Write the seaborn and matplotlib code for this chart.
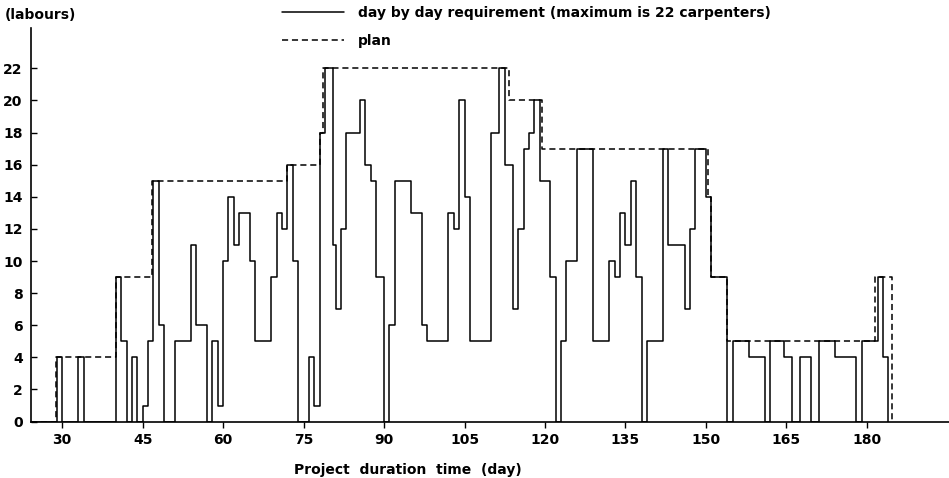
import matplotlib
matplotlib.use('Agg')
import matplotlib.pyplot as plt
import seaborn as sns
import pandas as pd

# day by day requirement: step starts (day) and number of labours from that day on
req_days = [24.2, 29, 30, 33, 34, 40, 41, 42, 43, 44, 45, 46, 47, 48, 49, 51, 54, 55, 57, 58, 59,
            60, 61, 62, 63, 65, 66, 69, 70, 71, 72, 73, 74, 76, 77, 78, 79, 80.5, 81, 82, 83,
            85.5, 86.5, 87.5, 88.5, 90, 91, 92, 95, 97, 98, 102, 103, 104, 105, 106, 110, 111.5,
            112.5, 114, 115, 116, 117, 118, 119, 121, 122, 123, 124, 126, 129, 132, 133, 134,
            135, 136, 137, 138, 139, 142, 143, 146, 147, 148, 150, 151, 154, 155, 158, 161, 162,
            164.5, 166, 167.5, 169.5, 171, 174, 178, 179, 182, 183, 184]
req_labours = [0, 4, 0, 4, 0, 9, 5, 0, 4, 0, 1, 5, 15, 6, 0, 5, 11, 6, 0, 5, 1,
               10, 14, 11, 13, 10, 5, 9, 13, 12, 16, 10, 0, 4, 1, 18, 22, 11, 7, 12, 18,
               20, 16, 15, 9, 0, 6, 15, 13, 6, 5, 13, 12, 20, 14, 5, 18, 22,
               16, 7, 12, 17, 18, 20, 15, 9, 0, 5, 10, 17, 5, 10, 9, 13,
               11, 15, 9, 0, 5, 17, 11, 7, 12, 17, 14, 9, 0, 5, 4, 0, 5,
               4, 0, 4, 0, 5, 4, 0, 5, 9, 4, 0]

# plan
plan_days = [24.2, 28.8, 40, 46.8, 72, 78, 78.6, 113.3, 119.4, 150.3, 150.9, 153.9, 181.6, 184.6]
plan_labours = [0, 4, 9, 15, 16, 18, 22, 20, 17, 14, 9, 5, 9, 0]

x_ticks = [30, 45, 60, 75, 90, 105, 120, 135, 150, 165, 180]
y_ticks = [0, 2, 4, 6, 8, 10, 12, 14, 16, 18, 20, 22]

req = pd.DataFrame({'day': req_days, 'labours': req_labours})
plan = pd.DataFrame({'day': plan_days, 'labours': plan_labours})

sns.set_style('ticks')
plt.rcParams['font.family'] = ['DejaVu Sans']
plt.rcParams['font.weight'] = 'bold'
for k in ['text.color', 'axes.labelcolor', 'xtick.color', 'ytick.color', 'axes.edgecolor']:
    plt.rcParams[k] = 'black'

fig = plt.figure(figsize=(9.49, 4.78), dpi=100)
ax = fig.add_axes([0.0327, 0.118, 0.9673, 0.823])

sns.lineplot(data=req, x='day', y='labours', ax=ax, color='black', linewidth=1.1,
             drawstyle='steps-post', estimator=None,
             label='day by day requirement (maximum is 22 carpenters)')
sns.lineplot(data=plan, x='day', y='labours', ax=ax, color='black', linewidth=1.1,
             drawstyle='steps-post', estimator=None, linestyle=(0, (4, 2.5)), label='plan')

ax.set_xlim(24.2, 195.3)
ax.set_ylim(0, 24.5)
ax.set_xticks(x_ticks)
ax.set_yticks(y_ticks)
ax.tick_params(axis='x', direction='out', length=4, width=1, labelsize=10, pad=4)
ax.tick_params(axis='y', direction='in', length=4, width=1, labelsize=10, pad=6)
sns.despine(ax=ax)
for s in ['left', 'bottom']:
    ax.spines[s].set_linewidth(1.2)

ax.set_xlabel('Project  duration  time  (day)', fontsize=10, fontweight='bold')
ax.xaxis.set_label_coords(0.41, -0.105)
ax.set_ylabel('')
fig.text(0.005, 0.968, '(labours)', fontsize=10, fontweight='bold', va='center', ha='left')

ax.get_legend().remove()
fig.legend(loc='upper left', bbox_to_anchor=(0.297, 0.987), frameon=False, fontsize=10,
           handlelength=4.5, handletextpad=0.95, labelspacing=1.0, borderpad=0,
           borderaxespad=0)

fig.savefig('out.png', dpi=100)
